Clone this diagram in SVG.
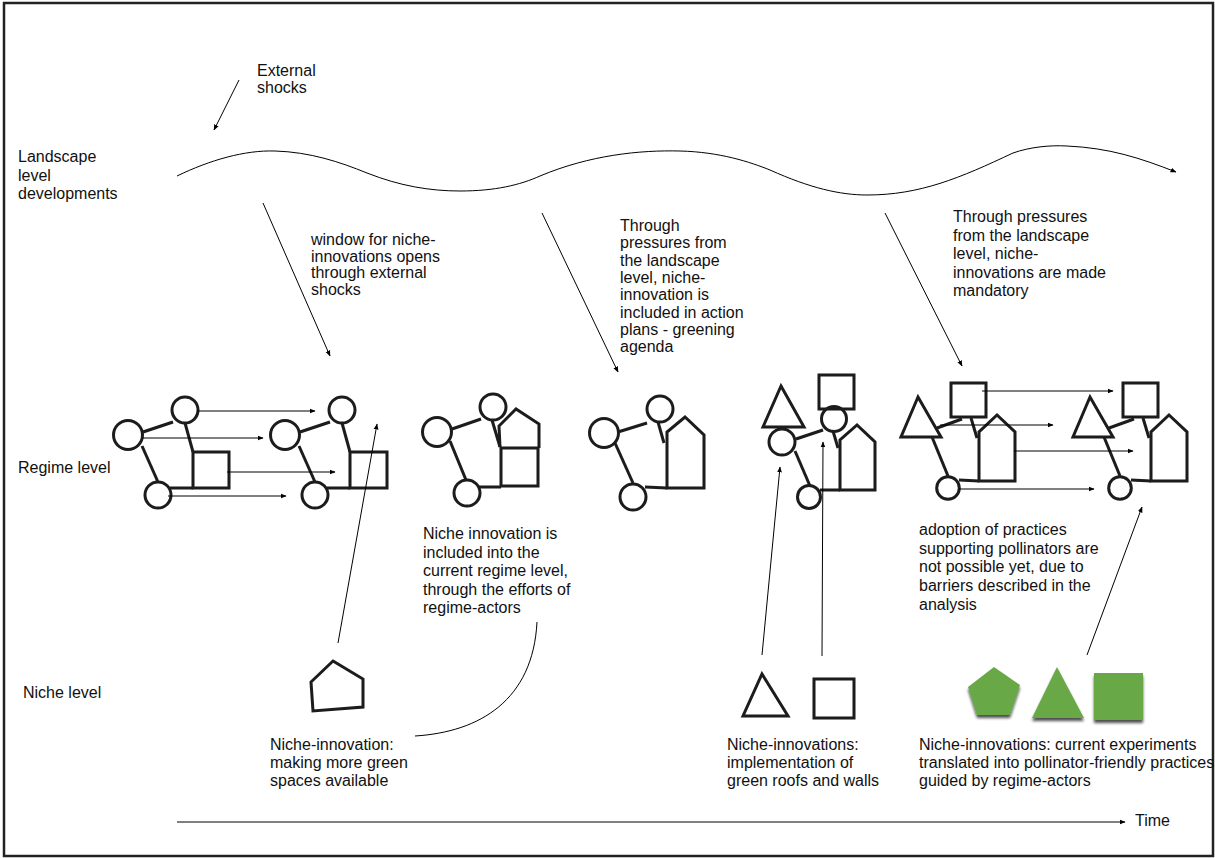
<svg xmlns="http://www.w3.org/2000/svg" width="1215" height="858" viewBox="0 0 1215 858">
  <style>
    .t { font-family: "Liberation Sans", Arial, sans-serif; font-size: 16px; fill: #111; }
    .shape { fill: none; stroke: #1c1c1c; stroke-width: 3; stroke-linejoin: miter; }
    .link { fill: none; stroke: #1c1c1c; stroke-width: 3; stroke-linecap: butt; }
    .conn { fill: none; stroke: #000; stroke-width: 1; }
    .green { fill: #69a847; }
  </style>
  <defs>
    <marker id="ah" viewBox="0 0 10 10" refX="9" refY="5" markerWidth="6" markerHeight="6" markerUnits="userSpaceOnUse" orient="auto">
      <path d="M0,1 L10,5 L0,9 Z" fill="#000"/>
    </marker>
    <filter id="soft" x="-10%" y="-10%" width="120%" height="120%">
      <feGaussianBlur stdDeviation="0.55"/>
    </filter>
    <filter id="shadow" x="-20%" y="-20%" width="140%" height="150%">
      <feGaussianBlur in="SourceAlpha" stdDeviation="1.5"/>
      <feOffset dx="0" dy="3" result="b"/>
      <feComponentTransfer><feFuncA type="linear" slope="0.7"/></feComponentTransfer>
      <feMerge><feMergeNode/><feMergeNode in="SourceGraphic"/></feMerge>
    </filter>
  </defs>

  <!-- frame -->
  <rect x="4" y="3" width="1209" height="853" fill="#fff" stroke="#222" stroke-width="2.5"/>

  <!-- level labels -->
  <g id="labels">
    <text class="t" x="257" y="76">External<tspan x="257" dy="16.5">shocks</tspan></text>
    <text class="t" x="18" y="162">Landscape<tspan x="18" dy="18.5">level</tspan><tspan x="18" dy="18.5">developments</tspan></text>
    <text class="t" x="18" y="473">Regime level</text>
    <text class="t" x="23" y="698">Niche level</text>
    <text class="t" x="1135" y="826">Time</text>
  </g>

  <!-- annotations -->
  <g id="notes">
    <text class="t" x="311" y="245">window for niche-<tspan x="311" dy="16.5">innovations opens</tspan><tspan x="311" dy="16.5">through external</tspan><tspan x="311" dy="16.5">shocks</tspan></text>
    <text class="t" x="620" y="231">Through<tspan x="620" dy="17.3">pressures from</tspan><tspan x="620" dy="17.3">the landscape</tspan><tspan x="620" dy="17.3">level, niche-</tspan><tspan x="620" dy="17.3">innovation is</tspan><tspan x="620" dy="17.3">included in action</tspan><tspan x="620" dy="17.3">plans - greening</tspan><tspan x="620" dy="17.3">agenda</tspan></text>
    <text class="t" x="953" y="222">Through pressures<tspan x="953" dy="18.5">from the landscape</tspan><tspan x="953" dy="18.5">level, niche-</tspan><tspan x="953" dy="18.5">innovations are made</tspan><tspan x="953" dy="18.5">mandatory</tspan></text>
    <text class="t" x="423" y="539">Niche innovation is<tspan x="423" dy="18.5">included into the</tspan><tspan x="423" dy="18.5">current regime level,</tspan><tspan x="423" dy="18.5">through the efforts of</tspan><tspan x="423" dy="18.5">regime-actors</tspan></text>
    <text class="t" x="919" y="535">adoption of practices<tspan x="919" dy="18.7">supporting pollinators are</tspan><tspan x="919" dy="18.7">not possible yet, due to</tspan><tspan x="919" dy="18.7">barriers described in the</tspan><tspan x="919" dy="18.7">analysis</tspan></text>
    <text class="t" x="270" y="750">Niche-innovation:<tspan x="270" dy="18">making more green</tspan><tspan x="270" dy="18">spaces available</tspan></text>
    <text class="t" x="727" y="750">Niche-innovations:<tspan x="727" dy="18">implementation of</tspan><tspan x="727" dy="18">green roofs and walls</tspan></text>
    <text class="t" x="919" y="750">Niche-innovations: current experiments<tspan x="919" dy="18">translated into pollinator-friendly practices</tspan><tspan x="919" dy="18">guided by regime-actors</tspan></text>
  </g>

  <!-- regime configurations -->
  <g id="regime-a" filter="url(#soft)">
    <line class="link" x1="143" y1="432" x2="173" y2="422"/>
    <line class="link" x1="185" y1="423" x2="193" y2="452"/>
    <line class="link" x1="142" y1="446" x2="158" y2="482"/>
    <line class="link" x1="170" y1="488" x2="193" y2="488"/>
    <circle class="shape" cx="128" cy="435" r="14.5"/>
    <circle class="shape" cx="185" cy="410" r="13"/>
    <circle class="shape" cx="158" cy="495" r="13"/>
    <rect class="shape" x="193" y="452" width="36" height="36"/>
  </g>
  <g id="regime-b" filter="url(#soft)">
    <line class="link" x1="300" y1="432" x2="330" y2="422"/>
    <line class="link" x1="342" y1="423" x2="350" y2="452"/>
    <line class="link" x1="299" y1="446" x2="315" y2="482"/>
    <line class="link" x1="327" y1="488" x2="350" y2="488"/>
    <circle class="shape" cx="285" cy="435" r="14.5"/>
    <circle class="shape" cx="342" cy="410" r="13"/>
    <circle class="shape" cx="315" cy="495" r="13"/>
    <rect class="shape" x="350" y="452" width="37" height="36"/>
  </g>
  <g id="regime-c" filter="url(#soft)">
    <line class="link" x1="452" y1="429" x2="481" y2="419"/>
    <line class="link" x1="492" y1="420" x2="500" y2="447"/>
    <line class="link" x1="450" y1="441" x2="466" y2="480"/>
    <line class="link" x1="479" y1="487" x2="501" y2="487"/>
    <circle class="shape" cx="437" cy="432" r="14.5"/>
    <circle class="shape" cx="493" cy="407" r="13"/>
    <circle class="shape" cx="467" cy="493" r="13"/>
    <rect class="shape" x="501" y="448" width="37" height="38"/>
    <polyline class="shape" points="500,447 499,426 516,409 539,424 539,448"/>
  </g>
  <g id="regime-d" filter="url(#soft)">
    <line class="link" x1="618" y1="432" x2="647" y2="423"/>
    <line class="link" x1="658" y1="422" x2="664" y2="443"/>
    <line class="link" x1="615" y1="443" x2="633" y2="483"/>
    <line class="link" x1="645" y1="487" x2="667" y2="488"/>
    <circle class="shape" cx="604" cy="433" r="14.5"/>
    <circle class="shape" cx="660" cy="409" r="13"/>
    <circle class="shape" cx="633" cy="497" r="13"/>
    <polygon class="shape" points="667,488 667,432 685,417 704,435 704,488"/>
  </g>
  <g id="regime-e" filter="url(#soft)">
    <line class="link" x1="796" y1="439" x2="823" y2="430"/>
    <line class="link" x1="833" y1="431" x2="838" y2="448"/>
    <line class="link" x1="795" y1="451" x2="810" y2="486"/>
    <line class="link" x1="820" y1="490" x2="840" y2="490"/>
    <polygon class="shape" points="781,386 804,427 763,427"/>
    <circle class="shape" cx="782" cy="442" r="13"/>
    <rect class="shape" x="819" y="375" width="35" height="34"/>
    <circle class="shape" cx="834" cy="419" r="12.5"/>
    <circle class="shape" cx="809" cy="497" r="11.5"/>
    <polygon class="shape" points="840,490 840,440 857,425 875,442 875,490"/>
  </g>
  <g id="regime-f" filter="url(#soft)">
    <line class="link" x1="937" y1="428" x2="962" y2="419"/>
    <line class="link" x1="971" y1="418" x2="977" y2="438"/>
    <line class="link" x1="932" y1="437" x2="948" y2="476"/>
    <line class="link" x1="959" y1="480" x2="979" y2="481"/>
    <polygon class="shape" points="918,397 941,437 901,437"/>
    <rect class="shape" x="951" y="383" width="35" height="34"/>
    <polygon class="shape" points="979,481 979,432 997,415 1015,432 1015,481"/>
    <circle class="shape" cx="948" cy="488" r="11.3"/>
  </g>
  <g id="regime-g" filter="url(#soft)">
    <line class="link" x1="1109" y1="428" x2="1134" y2="419"/>
    <line class="link" x1="1143" y1="418" x2="1149" y2="438"/>
    <line class="link" x1="1104" y1="437" x2="1120" y2="476"/>
    <line class="link" x1="1131" y1="480" x2="1151" y2="481"/>
    <polygon class="shape" points="1090,397 1113,437 1073,437"/>
    <rect class="shape" x="1123" y="383" width="35" height="34"/>
    <polygon class="shape" points="1151,481 1151,432 1169,415 1187,432 1187,481"/>
    <circle class="shape" cx="1120" cy="488" r="11.3"/>
  </g>

  <!-- niche innovations -->
  <g id="niche-pentagon" filter="url(#soft)">
    <polygon class="shape" points="333,661 363,679 363,707 313,711 311,682"/>
  </g>
  <g id="niche-triangle" filter="url(#soft)">
    <polygon class="shape" points="762,674 788,716 743,716"/>
  </g>
  <g id="niche-square" filter="url(#soft)">
    <rect class="shape" x="814" y="679" width="40" height="39"/>
  </g>
  <g id="niche-green" filter="url(#shadow)">
    <polygon class="green" points="994,667 1020,685 1010,715 977,715 968,687"/>
    <polygon class="green" points="1057,667 1084,718 1032,718"/>
    <rect class="green" x="1094" y="673" width="49" height="47"/>
  </g>

  <!-- connectors -->
  <g id="connectors">
    <path class="conn" d="M177,176 C210,160 245,150 275,151 C310,152 340,162 367,173 C400,186 430,191 460,191 C495,191 520,185 540,176 C590,155 640,150 680,151 C720,152 750,162 770,170 C810,188 840,195 867,195 C920,195 960,178 1013,153 C1030,147 1050,145 1067,146 C1110,148 1140,158 1176,172" marker-end="url(#ah)"/>
    <line class="conn" x1="239" y1="80" x2="214" y2="130" marker-end="url(#ah)"/>
    <line class="conn" x1="263" y1="203" x2="330" y2="356" marker-end="url(#ah)"/>
    <line class="conn" x1="542" y1="213" x2="618" y2="372" marker-end="url(#ah)"/>
    <line class="conn" x1="885" y1="213" x2="962" y2="366" marker-end="url(#ah)"/>

    <line class="conn" x1="197" y1="411" x2="315" y2="411" marker-end="url(#ah)"/>
    <line class="conn" x1="143" y1="438" x2="263" y2="438" marker-end="url(#ah)"/>
    <line class="conn" x1="227" y1="472" x2="335" y2="472" marker-end="url(#ah)"/>
    <line class="conn" x1="168" y1="496" x2="286" y2="496" marker-end="url(#ah)"/>

    <line class="conn" x1="982" y1="391" x2="1113" y2="391" marker-end="url(#ah)"/>
    <line class="conn" x1="940" y1="425" x2="1053" y2="425" marker-end="url(#ah)"/>
    <line class="conn" x1="1014" y1="451" x2="1133" y2="451" marker-end="url(#ah)"/>
    <line class="conn" x1="959" y1="489" x2="1094" y2="489" marker-end="url(#ah)"/>

    <line class="conn" x1="338" y1="643" x2="377" y2="424" marker-end="url(#ah)"/>
    <path class="conn" d="M537,622 C533,700 480,732 415,736"/>
    <line class="conn" x1="762" y1="655" x2="780" y2="467" marker-end="url(#ah)"/>
    <line class="conn" x1="822" y1="656" x2="823" y2="442" marker-end="url(#ah)"/>
    <line class="conn" x1="1087" y1="655" x2="1142" y2="507" marker-end="url(#ah)"/>

    <line class="conn" x1="177" y1="822" x2="1125" y2="822" marker-end="url(#ah)"/>
  </g>
</svg>
